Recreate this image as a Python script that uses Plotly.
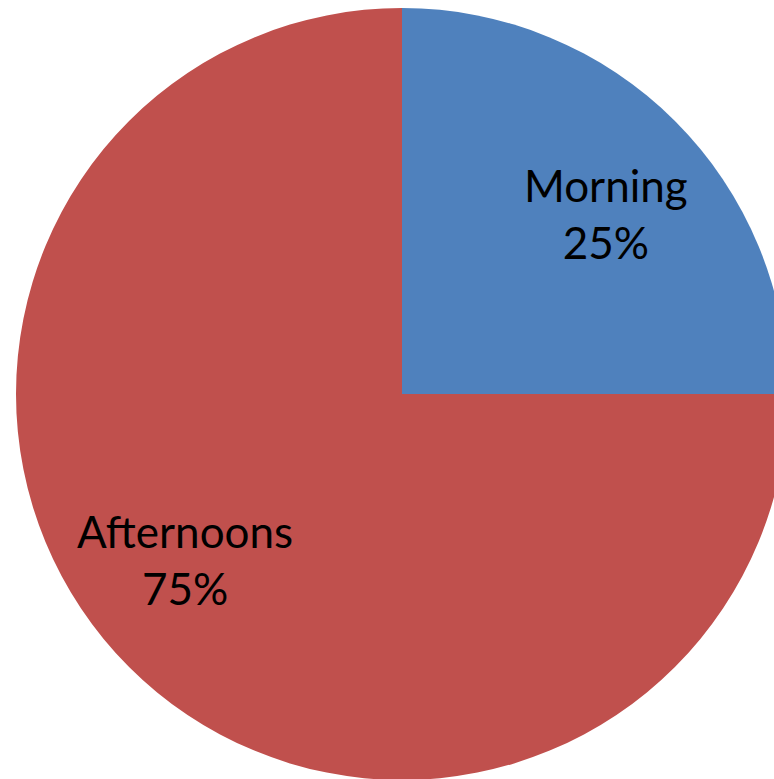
import plotly.graph_objects as go

labels = ["Morning", "Afternoons"]
values = [25, 75]
colors = ["#4F81BD", "#C0504D"]

W, H = 804, 788
cx, cy, r = 402, 394, 386

total = sum(values)
pct = [f"{round(v / total * 100)}%" for v in values]

fig = go.Figure(go.Pie(
    labels=labels,
    values=values,
    sort=False,
    direction="clockwise",
    rotation=0,
    marker=dict(colors=colors, line=dict(width=0)),
    textinfo="none",
    hoverinfo="label+percent",
    showlegend=False,
    domain=dict(x=[(cx - r) / W, (cx + r) / W], y=[(H - cy - r) / H, (H - cy + r) / H]),
))

label_pos = [(606, 213), (185, 559)]
for lab, p, (lx, ly) in zip(labels, pct, label_pos):
    fig.add_annotation(
        x=lx / W, y=1 - ly / H, xref="paper", yref="paper",
        text=f"{lab}<br>{p}", showarrow=False,
        font=dict(family="Lato", size=44, color="black"),
        xanchor="center", yanchor="middle", align="center",
    )

fig.update_layout(
    width=W, height=H,
    margin=dict(l=0, r=0, t=0, b=0),
    paper_bgcolor="white", plot_bgcolor="white",
)

fig.write_html(
    "out.html",
    config={"displayModeBar": False},
    post_script="document.body.style.margin='0';document.body.style.overflow='hidden';document.documentElement.style.overflow='hidden';",
)
